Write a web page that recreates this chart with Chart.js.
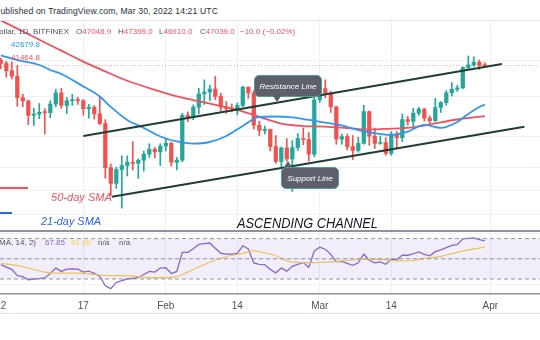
<!DOCTYPE html>
<html lang="en">
<head>
<meta charset="UTF-8">
<title>BTC/USD ascending channel</title>
<script src="https://cdn.jsdelivr.net/npm/chart.js"></script>
<style>
  body { margin:0; width:540px; height:340px; overflow:hidden; background:#fff; position:relative;
         font-family:"Liberation Sans", Arial, sans-serif; }
  canvas { position:absolute; left:0; }
  .t { position:absolute; white-space:nowrap; font-size:8px; line-height:12px; }
  .red { color:#f0525f; }
  .gry { color:#50535e; }
  .note { position:absolute; white-space:nowrap; font-style:italic; }
  .box { position:absolute; background:#5d606b; border:1px solid #4a9f98; border-radius:5px; box-sizing:border-box;
         color:#fff; font-style:italic; font-size:8px; display:flex; align-items:center; justify-content:center; }
  .rule { position:absolute; }
</style>
</head>
<body>

<!-- header -->
<div class="t" style="right:322px; top:5px; font-size:8.6px; letter-spacing:0.13px; color:#2a2e39">Published on TradingView.com, Mar 30, 2022 14:21 UTC</div>
<div class="rule" style="left:0; top:20px; width:540px; height:1px; background:#e0e3eb"></div>

<canvas id="price" width="540" height="210" style="top:21px"></canvas>
<div class="rule" style="left:0; top:230px; width:540px; height:2px; background:#8f929b"></div>
<canvas id="rsi" width="540" height="84" style="top:232px"></canvas>
<div class="rule" style="left:0; top:313px; width:540px; height:1px; background:#e0e3eb"></div>

<!-- symbol legend -->
<div class="t gry" style="right:471px; top:26px">Bitcoin / U.S. Dollar, 1D, BITFINEX</div>
<div class="t" style="left:76px; top:26px"><span class="gry">O</span><span class="red">47048.9</span></div>
<div class="t" style="left:118px; top:26px"><span class="gry">H</span><span class="red">47399.0</span></div>
<div class="t" style="left:159px; top:26px"><span class="gry">L</span><span class="red">46910.0</span></div>
<div class="t" style="left:200px; top:26px"><span class="gry">C</span><span class="red">47039.0</span></div>
<div class="t red" style="left:240px; top:26px">−10.0 (−0.02%)</div>
<div class="t" style="left:11px; top:39px; color:#2196f3">42679.8</div>
<div class="t" style="left:11px; top:52px; color:#f0525f">41464.8</div>

<!-- author drawings -->
<div class="box" style="left:254px; top:75px; width:68px; height:22px"><span>Resistance Line</span></div>
<div class="rule" style="left:273px; top:96px; width:0; height:0; border-left:4px solid transparent; border-right:4px solid transparent; border-top:6px solid #5d606b"></div>
<div class="box" style="left:281px; top:167px; width:58px; height:22px"><span>Support Line</span></div>
<div class="rule" style="left:284px; top:161px; width:0; height:0; border-left:4px solid transparent; border-right:4px solid transparent; border-bottom:6px solid #5d606b"></div>

<div class="rule" style="left:0; top:187px; width:28px; height:2px; background:#f0525f"></div>
<div class="note" id="n50" style="left:51px; top:190px; font-size:11px; line-height:14px; color:#f0525f">50-day SMA</div>
<div class="rule" style="left:0; top:212px; width:12px; height:2px; background:#2f63e6"></div>
<div class="note" id="n21" style="left:41px; top:214px; font-size:11px; line-height:14px; color:#2f63e6">21-day SMA</div>
<div class="note" id="nCh" style="left:237px; top:214px; font-size:15px; line-height:18px; color:#131722">ASCENDING CHANNEL</div>

<!-- RSI legend -->
<div class="t gry" style="right:504px; top:237px">RSI (14, close, SMA, 14, 2)</div>
<div class="t" style="left:45px; top:237px; color:#8a67cc">67.85</div>
<div class="t" style="left:71px; top:237px; color:#f5d04d">61.50</div>
<div class="t gry" style="left:98px; top:237px">n/a</div>
<div class="t gry" style="left:119px; top:237px">n/a</div>

<script>
// daily candles, first one is Jan 2 2022 (day 1, Jan 1 = day 0)
const dayStart = 1;
const opens = [47700,47300,46450,45830,43430,43080,41550,41680,41860,41830,42740,43950,42590,43100,43180,43110,42250,42380,41700,40700,
  36460,35050,36280,36650,36950,36850,37140,37710,38170,37920,38480,38740,36950,37150,41570,41380,42410,43840,44040,44370,
  43560,42410,42240,42200,42590,44580,43960,40540,40010,40120,38430,37020,38300,37260,38330,39210,39110,37710,43190,44420,
  43920,42450,39150,39400,38420,38060,38740,41940,39440,38730,38810,37780,39670,39280,41110,40920,41770,42200,41260,41000,
  42370,42890,43960,44350,44500,46820,47130,47460,47049];
const highs = [47950,47550,47500,47070,43800,43150,42300,42800,42250,43100,44350,44450,43450,43800,43480,43200,42700,42580,43500,41100,
  36800,36500,37550,37550,38900,37250,38000,38700,38350,38700,39250,38850,37400,41750,41900,42650,44450,45400,44800,45800,
  43900,43000,42750,42850,44700,44600,44200,40950,40450,40150,39500,38400,39200,39000,39700,40250,39800,43800,44950,45400,
  44100,42500,39650,39650,39500,39350,42600,42000,40250,39450,39300,39900,39900,41700,41450,42300,42400,42300,41500,43350,
  43000,44200,45100,44800,46900,48200,48100,47700,47399];
const lows = [46700,45700,45500,42500,42450,40600,40500,41200,39650,41300,42450,42300,41730,42600,42700,41550,41250,41150,40600,35500,
  34000,34600,32950,35700,36250,35500,36150,37400,37350,36650,38000,36600,36250,37000,40900,41100,41700,42700,43100,43200,
  42000,41750,41900,41600,42450,43350,40150,39500,39650,38000,36850,36400,37050,34350,38050,38600,37050,37450,42900,43400,
  41850,38650,38650,38100,37200,37900,38650,38550,38250,38650,37600,37600,38200,38900,40550,40200,41550,40950,40500,40900,
  41850,42600,43600,44100,44400,46650,46950,46600,46910];
const closes = [47300,46450,45830,43430,43080,41550,41680,41860,41830,42740,43950,42590,43100,43180,43110,42250,42380,41700,40700,36460,
  35050,36280,36650,36950,36850,37140,37710,38170,37920,38480,38740,36950,37150,41570,41380,42410,43840,44040,44370,43560,
  42410,42240,42200,42590,44580,43960,40540,40010,40120,38430,37020,38300,37260,38330,39210,39110,37710,43190,44420,43920,
  42450,39150,39400,38420,38060,38740,41940,39440,38730,38810,37780,39670,39280,41110,40920,41770,42200,41260,41000,42370,
  42890,43960,44350,44500,46820,47130,47460,47049,47039];
const lastClose = 47039;

// moving averages
const sma50Days = [1,4,8,12,16,20,24,28,32,36,40,44,48,52,56,60,64,68,72,76,80,84,89];
const sma50 = [52680,51610,50200,48840,47520,46370,45300,44480,43730,43160,42660,42130,41400,40700,40450,40390,40250,40100,40200,40320,40730,41120,41465];
const sma21Days = [1,4,8,10,12,16,19,21,24,27,30,33,36,39,42,45,48,51,54,57,60,63,66,69,72,75,78,81,84,86,88,89];
const sma21 = [48280,47710,47120,46540,46070,44660,43550,42430,41070,40260,39410,38920,38720,38870,39460,40460,41380,41430,41330,41070,40810,40510,40050,39730,39560,39900,40560,40260,40860,41690,42430,42680];

// channel drawn by the author (day, price)
const resistanceDays = [16, 92.1];
const resistancePrices = [39460, 47240];
const supportDays = [21.2, 96.2];
const supportPrices = [33900, 40390];

// RSI 14 and its 14-day SMA
const rsi = [44.2,41.8,39.5,33.4,32.4,29.3,30.0,30.3,31.0,35.5,40.8,37.5,39.8,40.0,39.8,36.8,37.8,35.5,32.7,23.2,
  20.5,26.6,28.5,30.0,30.7,31.5,34.5,37.5,36.8,40.8,41.2,35.4,37.5,56.4,56.4,60.0,64.2,65.0,65.6,60.5,
  55.4,54.7,54.7,55.4,62.9,59.8,45.9,44.5,44.2,39.5,36.1,40.8,37.8,42.5,44.5,46.3,41.5,57.8,61.5,59.5,
  54.4,47.0,47.5,45.5,43.6,46.0,54.7,48.6,46.0,47.0,44.6,49.7,49.0,53.7,53.5,55.0,56.8,54.4,53.0,57.1,
  58.8,61.0,63.2,63.9,69.7,70.3,70.7,69.0,67.85];
const rsiMaDays = [1,3,6,9,12,15,18,21,25,27,30,33,35,37,40,42,45,47,48,51,53,56,58,61,63,66,68,71,73,76,78,81,83,86,89];
const rsiMa = [45.3,44.2,40.8,36.8,35.8,35.8,34.4,33.4,33.0,31.7,31.4,32.4,36.8,41.9,48.6,52.0,55.4,58.1,57.1,53.0,48.0,46.3,46.3,46.9,48.0,49.3,49.7,49.0,48.0,48.3,50.3,52.4,55.1,58.8,61.5];
const rsiLevels = [70, 50, 30];

// axes
const tickDays = [0, 16, 31, 44, 59, 72, 90];
const tickLabels = ['2022', '17', 'Feb', '14', 'Mar', '14', 'Apr'];
const priceGrid = [47600, 43600, 39400, 36500, 34400, 32400];
const rsiGrid = [25, 50, 75];
const xMin = 0.855, xMax = 99.04;
const priceMin = 31116, priceMax = 52600;
const rsiMin = 15.15, rsiMax = 76.53;

const GREEN = '#26a69a', RED = '#ef5350', GRID = '#edf0f5';

const candleDays = opens.map((_, i) => dayStart + i);
const candleColors = closes.map((c, i) => c >= opens[i] ? GREEN : RED);
const pts = (xs, ys) => xs.map((x, i) => ({ x: x, y: ys[i] }));

const noPad = s => { s.paddingLeft = 0; s.paddingRight = 0; s.paddingTop = 0; s.paddingBottom = 0; };

new Chart(document.getElementById('price'), {
  type: 'bar',
  data: {
    datasets: [
      { type: 'line', data: pts(resistanceDays, resistancePrices), borderColor: '#1f3d34', borderWidth: 2, pointRadius: 0, order: 0 },
      { type: 'line', data: pts(supportDays, supportPrices), borderColor: '#1f3d34', borderWidth: 2, pointRadius: 0, order: 0 },
      { type: 'line', data: pts(sma21Days, sma21), borderColor: '#2f96f3', borderWidth: 1.8, pointRadius: 0,
        cubicInterpolationMode: 'monotone', order: 1 },
      { type: 'line', data: pts(sma50Days, sma50), borderColor: '#f0515e', borderWidth: 1.8, pointRadius: 0,
        cubicInterpolationMode: 'monotone', order: 1 },
      { type: 'line', data: pts([xMin, xMax], [lastClose, lastClose]), borderColor: 'rgba(239,83,80,0.55)',
        borderWidth: 1, borderDash: [1, 2], pointRadius: 0, order: 4 },
      { data: pts(candleDays, lows.map((l, i) => [l, highs[i]])), backgroundColor: candleColors,
        barThickness: 1, grouped: false, order: 3 },
      { data: pts(candleDays, opens.map((o, i) => [o, closes[i]])), backgroundColor: candleColors,
        barThickness: 3.6, minBarLength: 1, grouped: false, order: 2 }
    ]
  },
  options: {
    responsive: false, animation: false, events: [],
    layout: { padding: 0 },
    plugins: { legend: { display: false }, tooltip: { enabled: false } },
    scales: {
      x: {
        type: 'linear', min: xMin, max: xMax, offset: false,
        grid: { color: GRID, drawTicks: false, offset: false }, border: { display: false },
        ticks: { display: false, autoSkip: false },
        afterBuildTicks: s => { s.ticks = tickDays.map(v => ({ value: v })); },
        afterFit: s => { s.height = 0; noPad(s); }
      },
      y: {
        type: 'logarithmic', min: priceMin, max: priceMax, bounds: 'data', position: 'right',
        grid: { color: GRID, drawTicks: false }, border: { display: false },
        ticks: { display: false },
        afterBuildTicks: s => { s.ticks = priceGrid.map(v => ({ value: v })); },
        afterFit: s => { s.width = 0; noPad(s); }
      }
    }
  }
});

const flat = v => pts([xMin, xMax], [v, v]);
new Chart(document.getElementById('rsi'), {
  type: 'line',
  data: {
    datasets: [
      { data: flat(rsiLevels[0]), borderColor: '#9598a1', borderWidth: 1, borderDash: [4, 3], pointRadius: 0,
        fill: '+2', backgroundColor: 'rgba(126,87,194,0.1)' },
      { data: flat(rsiLevels[1]), borderColor: '#9598a1', borderWidth: 1, borderDash: [4, 3], pointRadius: 0 },
      { data: flat(rsiLevels[2]), borderColor: '#9598a1', borderWidth: 1, borderDash: [4, 3], pointRadius: 0 },
      { data: pts(rsiMaDays, rsiMa), borderColor: '#f5d04d', borderWidth: 1.2, pointRadius: 0, cubicInterpolationMode: 'monotone' },
      { data: pts(candleDays, rsi), borderColor: '#8a67cc', borderWidth: 1.3, pointRadius: 0 }
    ]
  },
  options: {
    responsive: false, animation: false, events: [],
    layout: { padding: 0 },
    plugins: { legend: { display: false }, tooltip: { enabled: false } },
    scales: {
      x: {
        type: 'linear', min: xMin, max: xMax,
        grid: { color: GRID, drawTicks: false },
        border: { display: true, color: '#8f929b', width: 1.5 },
        ticks: { autoSkip: false, maxRotation: 0, padding: 6, color: '#50535e',
                 font: { family: 'Liberation Sans', size: 10 },
                 callback: v => tickLabels[tickDays.indexOf(v)] },
        afterBuildTicks: s => { s.ticks = tickDays.map(v => ({ value: v })); },
        afterFit: s => { s.height = 22; noPad(s); }
      },
      y: {
        min: rsiMin, max: rsiMax, position: 'right',
        grid: { color: GRID, drawTicks: false }, border: { display: false },
        ticks: { display: false },
        afterBuildTicks: s => { s.ticks = rsiGrid.map(v => ({ value: v })); },
        afterFit: s => { s.width = 0; noPad(s); }
      }
    }
  }
});

// squeeze the hand-written notes to the width they have on the original
const fit = (id, w) => {
  const el = document.getElementById(id);
  const n = el.getBoundingClientRect().width;
  el.style.transformOrigin = 'left center';
  el.style.transform = 'scaleX(' + (w / n) + ')';
};
fit('n50', 61);
fit('n21', 60);
fit('nCh', 141);
</script>
</body>
</html>
